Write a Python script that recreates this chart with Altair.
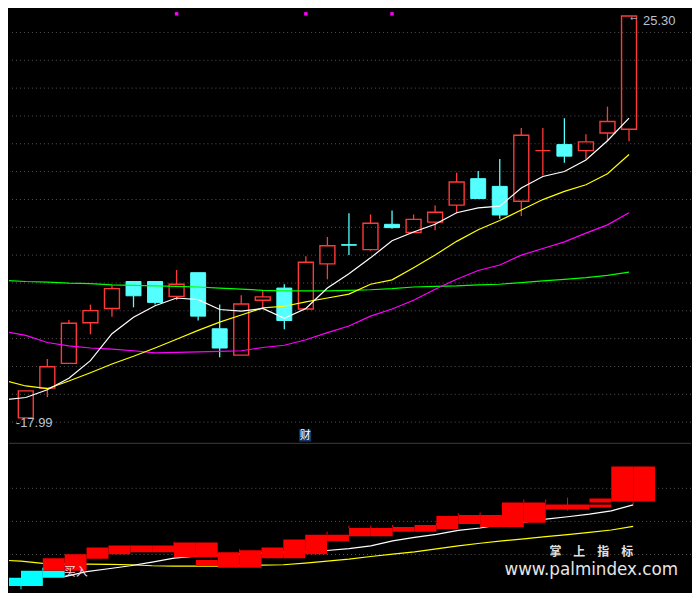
import altair as alt
import pandas as pd

# ---------------- data ----------------
candle_idx = list(range(29))
c_open = [17.99, 18.53, 18.98, 19.72, 19.98, 20.47, 20.47, 20.20, 20.63, 19.61,
          19.13, 20.13, 20.35, 19.97, 20.79, 21.14, 21.05, 21.51, 21.36, 21.55,
          21.86, 22.34, 22.20, 21.93, 22.85, 22.96, 22.85, 23.17, 23.24]
c_high = [18.48, 19.06, 19.77, 20.05, 20.40, 20.47, 20.47, 20.68, 20.63, 20.05,
          20.22, 20.30, 20.42, 20.93, 21.28, 21.71, 21.69, 21.76, 21.69, 21.85,
          22.45, 22.48, 22.70, 23.26, 23.26, 23.44, 23.15, 23.65, 25.30]
c_low = [17.99, 18.37, 18.98, 19.51, 19.83, 20.00, 20.05, 20.13, 19.76, 19.09,
         19.13, 19.99, 19.60, 19.97, 20.51, 20.95, 21.03, 21.43, 21.36, 21.40,
         21.71, 21.98, 21.61, 21.66, 22.40, 22.63, 22.69, 23.02, 23.02]
c_close = [18.48, 18.92, 19.71, 19.94, 20.34, 20.21, 20.09, 20.42, 19.84, 19.26,
           20.06, 20.19, 19.76, 20.82, 21.12, 21.13, 21.53, 21.45, 21.60, 21.73,
           22.28, 21.98, 21.68, 23.13, 22.85, 22.75, 23.01, 23.38, 25.30]

ma_idx = list(range(-1, 29))
ma5 = [18.32, 18.36, 18.50, 18.71, 19.03, 19.52, 19.82, 20.03, 20.17, 20.14,
       19.96, 19.93, 19.98, 19.80, 19.98, 20.35, 20.61, 20.90, 21.21, 21.37,
       21.51, 21.72, 21.81, 21.84, 22.17, 22.38, 22.47, 22.68, 23.03, 23.44]
ma10 = [18.67, 18.57, 18.52, 18.66, 18.81, 18.97, 19.11, 19.26, 19.42, 19.58,
        19.73, 19.86, 19.99, 20.02, 20.10, 20.17, 20.24, 20.42, 20.50, 20.72,
        20.95, 21.20, 21.41, 21.58, 21.77, 21.96, 22.11, 22.23, 22.43, 22.78]
ma30 = [19.56, 19.49, 19.36, 19.30, 19.26, 19.24, 19.21, 19.17, 19.18, 19.19,
        19.20, 19.21, 19.27, 19.31, 19.41, 19.54, 19.66, 19.84, 19.97, 20.13,
        20.33, 20.51, 20.67, 20.77, 20.95, 21.07, 21.19, 21.35, 21.50, 21.72]
ma60 = [20.49, 20.47, 20.46, 20.44, 20.43, 20.41, 20.40, 20.39, 20.38, 20.37,
        20.35, 20.33, 20.31, 20.30, 20.30, 20.30, 20.31, 20.32, 20.34, 20.37,
        20.38, 20.39, 20.41, 20.42, 20.45, 20.48, 20.51, 20.54, 20.58, 20.64]

grid_main = [25.000, 24.494, 23.987, 23.481, 22.975, 22.469, 21.962, 21.456,
             20.950, 20.443, 19.937, 19.431, 18.924, 18.418, 17.912]
grid_sub = [1.0, 2.0, 3.0]
signal_idx = [7, 13, 17]

# lower panel: blocks between consecutive bars (from index -> index+1)
band_from = [-1, 0, 1, 1, 2, 3, 4, 5, 6, 7, 8, 8, 9, 10, 11, 12, 13, 14, 15, 16,
             17, 18, 19, 20, 21, 22, 23, 24, 25, 26, 26, 27, 28]
band_lo = [0.05, 0.05, 0.30, 0.51, 0.51, 0.87, 1.01, 1.07, 1.07, 0.92, 0.92, 0.65,
           0.60, 0.60, 0.89, 0.89, 1.01, 1.40, 1.55, 1.55, 1.69, 1.69, 1.77, 1.92,
           1.83, 1.83, 1.96, 2.36, 2.36, 2.57, 2.42, 2.60, 2.60]
band_hi = [0.30, 0.51, 0.51, 0.89, 1.01, 1.21, 1.27, 1.27, 1.27, 1.36, 1.36, 0.83,
           1.07, 1.13, 1.21, 1.45, 1.60, 1.60, 1.80, 1.80, 1.83, 1.89, 2.16, 2.19,
           2.19, 2.57, 2.57, 2.51, 2.51, 2.69, 2.51, 3.66, 3.66]
band_kind = ["down", "down", "down"] + ["up"] * 30

sw_idx = [0, 1, 7, 10, 14, 15, 16, 17, 19, 20, 21, 23, 24, 25, 28]
sw_lo = [-0.05, 0.51, 1.27, 1.07, 1.60, 1.80, 1.80, 1.83, 1.89, 2.19, 2.19, 2.57, 2.57, 2.33, 2.50]
sw_hi = [0.05, 0.60, 1.39, 1.16, 1.69, 1.87, 1.87, 1.89, 1.95, 2.25, 2.27, 2.66, 2.66, 2.72, 2.60]
sw_kind = ["down", "down"] + ["up"] * 13

sub_white_idx = list(range(2, 29))
sub_white = [0.33, 0.48, 0.57, 0.66, 0.77, 0.89, 0.95, 0.98, 1.01, 1.04, 1.07, 1.08,
             1.12, 1.18, 1.26, 1.41, 1.52, 1.61, 1.73, 1.80, 1.91, 1.98, 2.07, 2.14,
             2.22, 2.32, 2.50]
sub_yellow_idx = list(range(-1, 29))
sub_yellow = [0.83, 0.80, 0.73, 0.71, 0.71, 0.70, 0.69, 0.66, 0.65, 0.65, 0.65, 0.66,
              0.68, 0.69, 0.74, 0.80, 0.86, 0.94, 1.01, 1.08, 1.17, 1.26, 1.34, 1.41,
              1.47, 1.54, 1.60, 1.67, 1.74, 1.85]

# ---------------- tables ----------------
cdf = pd.DataFrame({"i": candle_idx, "open": c_open, "high": c_high,
                    "low": c_low, "close": c_close})
cdf["top"] = cdf[["open", "close"]].max(axis=1)
cdf["bot"] = cdf[["open", "close"]].min(axis=1)
cdf["kind"] = ["up" if c >= o else "down" for o, c in zip(c_open, c_close)]

ma_tables = [(pd.DataFrame({"i": ma_idx, "v": vals}), col) for vals, col in
             [(ma60, "#00ff00"), (ma30, "#ff00ff"), (ma10, "#ffff00"), (ma5, "#ffffff")]]
band_df = pd.DataFrame({"a": band_from, "lo": band_lo, "hi": band_hi, "kind": band_kind})
band_df["b"] = band_df["a"] + 1
sw_df = pd.DataFrame({"i": sw_idx, "lo": sw_lo, "hi": sw_hi, "kind": sw_kind})
sub_y_df = pd.DataFrame({"i": sub_yellow_idx, "v": sub_yellow})
sub_w_df = pd.DataFrame({"i": sub_white_idx, "v": sub_white})

# ---------------- scales ----------------
W, H1, H2 = 684, 435, 150
xs = alt.Scale(domain=[-0.548, 30.646], nice=False, zero=False)
ys = alt.Scale(domain=[17.540, 25.429], nice=False, zero=False)
bs = alt.Scale(domain=[-0.138, 4.382], nice=False, zero=False)
RED, CYAN = "#ff3838", "#54ffff"
BRED, BCYAN = "#ff0000", "#00ffff"
X = alt.X("i:Q", scale=xs, axis=None)


def kind_is(k):
    return "datum.kind == '%s'" % k


# ---------------- main panel ----------------
grid = alt.Chart(pd.DataFrame({"p": grid_main})).mark_rule(
    color="#555555", strokeDash=[1, 3], strokeWidth=1
).encode(y=alt.Y("p:Q", scale=ys, axis=None))

base = alt.Chart(cdf)
candle_layers = []
for k, col in [("up", RED), ("down", CYAN)]:
    b = base.transform_filter(kind_is(k))
    candle_layers.append(b.mark_rule(strokeWidth=1.3, color=col).encode(
        x=X, y=alt.Y("top:Q", scale=ys, axis=None), y2="high:Q"))
    candle_layers.append(b.mark_rule(strokeWidth=1.3, color=col).encode(
        x=X, y=alt.Y("low:Q", scale=ys, axis=None), y2="bot:Q"))
body_up = base.transform_filter(kind_is("up")).mark_bar(
    size=15, fillOpacity=0, stroke=RED, strokeWidth=1.4
).encode(x=X, y=alt.Y("open:Q", scale=ys, axis=None), y2="close:Q")
body_dn = base.transform_filter(kind_is("down")).mark_bar(
    size=15, color=CYAN, stroke=CYAN, strokeWidth=1
).encode(x=X, y=alt.Y("open:Q", scale=ys, axis=None), y2="close:Q")

ma_layers = [alt.Chart(d).mark_line(strokeWidth=1.2, clip=True, color=col).encode(
    x=X, y=alt.Y("v:Q", scale=ys, axis=None)) for d, col in ma_tables]

sig = alt.Chart(pd.DataFrame({"i": signal_idx})).mark_square(
    size=12, color="#ff00ff", opacity=1).encode(x=X, y=alt.value(5))

hi_lbl = alt.Chart(pd.DataFrame({"i": [28], "p": [25.30], "t": ["25.30"]})).mark_text(
    align="left", baseline="middle", dx=14, dy=5, font="Liberation Sans", fontSize=13,
    color="#b8c4d0").encode(x=X, y=alt.Y("p:Q", scale=ys, axis=None), text="t:N")
hi_arrow = alt.Chart(pd.DataFrame({"i": [28], "p": [25.30], "t": ["←"]})).mark_text(
    align="left", baseline="middle", dx=1, dy=2, font="DejaVu Sans", fontSize=9,
    color="#9aa4b0").encode(x=X, y=alt.Y("p:Q", scale=ys, axis=None), text="t:N")
lo_lbl = alt.Chart(pd.DataFrame({"i": [0], "p": [17.99], "t": ["-17.99"]})).mark_text(
    align="left", baseline="middle", dx=-10, dy=5, font="Liberation Sans", fontSize=13,
    color="#b8c4d0").encode(x=X, y=alt.Y("p:Q", scale=ys, axis=None), text="t:N")

cai_box = alt.Chart(pd.DataFrame({"k": [0]})).mark_rect(color="#12386a").encode(
    x=alt.value(291), x2=alt.value(303), y=alt.value(422), y2=alt.value(434))
cai_txt = alt.Chart(pd.DataFrame({"t": ["财"]})).mark_text(
    font="Noto Sans CJK SC", fontSize=11, color="#ffffff", baseline="middle", align="center"
).encode(x=alt.value(297), y=alt.value(428), text="t:N")

main = alt.layer(grid, *candle_layers, body_up, body_dn, *ma_layers, sig,
                 hi_arrow, hi_lbl, lo_lbl, cai_box, cai_txt).properties(width=W, height=H1)

# ---------------- lower panel ----------------
sgrid = alt.Chart(pd.DataFrame({"v": grid_sub})).mark_rule(
    color="#555555", strokeDash=[1, 3], strokeWidth=1
).encode(y=alt.Y("v:Q", scale=bs, axis=None))
sep = alt.Chart(pd.DataFrame({"v": [4.36]})).mark_rule(
    color="#3c3c3c", strokeWidth=1).encode(y=alt.Y("v:Q", scale=bs, axis=None))

sub_yellow_line = alt.Chart(sub_y_df).mark_line(strokeWidth=1.2, clip=True, color="#ffff00").encode(
    x=X, y=alt.Y("v:Q", scale=bs, axis=None))
sub_white_line = alt.Chart(sub_w_df).mark_line(strokeWidth=1.2, clip=True, color="#ffffff").encode(
    x=X, y=alt.Y("v:Q", scale=bs, axis=None))

bdf = alt.Chart(band_df)
band_layers = [bdf.transform_filter(kind_is(k)).mark_rect(clip=True, strokeWidth=0, color=col).encode(
    x=alt.X("a:Q", scale=xs, axis=None), x2="b:Q",
    y=alt.Y("lo:Q", scale=bs, axis=None), y2="hi:Q") for k, col in [("down", BCYAN), ("up", BRED)]]
swdf = alt.Chart(sw_df)
swick_layers = [swdf.transform_filter(kind_is(k)).mark_rule(strokeWidth=1, color=col).encode(
    x=X, y=alt.Y("lo:Q", scale=bs, axis=None), y2="hi:Q") for k, col in [("down", BCYAN), ("up", BRED)]]

buy = alt.Chart(pd.DataFrame({"t": ["买入"]})).mark_text(
    font="Noto Sans CJK SC", fontSize=12, color="#ffd8e0", baseline="middle", align="center"
).encode(x=alt.value(67), y=alt.value(130), text="t:N")
wm1 = alt.Chart(pd.DataFrame({"t": ["掌　上　指　标"]})).mark_text(
    font="Noto Sans CJK SC", fontSize=12, fontWeight="bold", color="#e0e0e0",
    baseline="middle", align="center"
).encode(x=alt.value(584), y=alt.value(110), text="t:N")
wm2 = alt.Chart(pd.DataFrame({"t": ["www.palmindex.com"]})).mark_text(
    font="DejaVu Sans", fontSize=16.8, color="#e6e6e6", baseline="middle", align="center"
).encode(x=alt.value(584), y=alt.value(128), text="t:N")

sub = alt.layer(sgrid, sep, sub_yellow_line, sub_white_line, *band_layers, *swick_layers,
                buy, wm1, wm2).properties(width=W, height=H2)

chart = alt.vconcat(main, sub, spacing=0).resolve_scale(
    y="independent"
).properties(background="#000000", padding=0).configure_view(stroke=None)

chart.save("out.html", embed_options={"renderer": "svg", "actions": False})
